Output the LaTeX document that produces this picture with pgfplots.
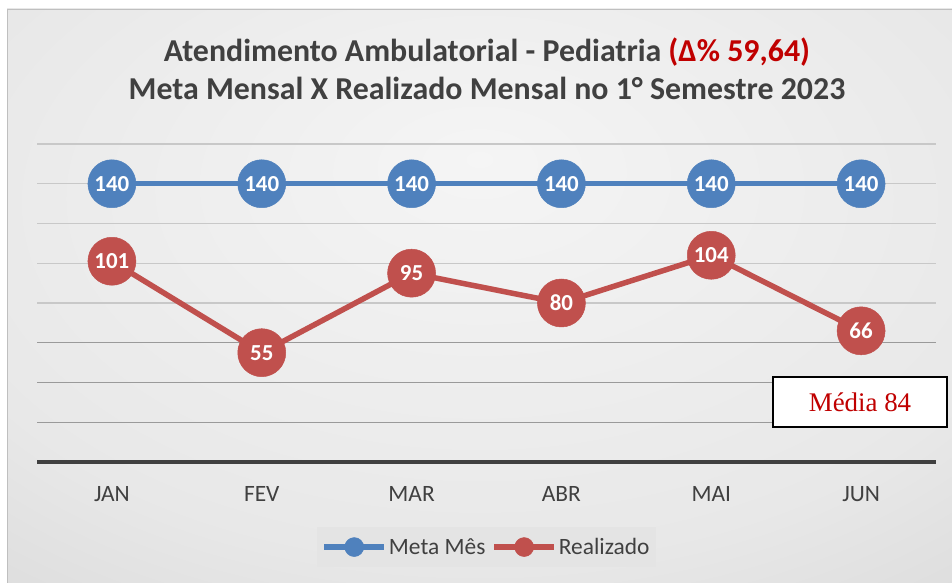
\documentclass[border=0pt]{standalone}
\usepackage{fontspec}
\setmainfont{Carlito}
\newfontfamily\timesf{Liberation Serif}
\usepackage{pgfplots}
\pgfplotsset{compat=1.18}

\definecolor{metablue}{HTML}{4F81BD}
\definecolor{realred}{HTML}{C0504D}
\definecolor{titlegray}{HTML}{404040}
\definecolor{darkred}{HTML}{C00000}
\definecolor{gridlight}{HTML}{C8C8C8}
\definecolor{griddark}{HTML}{9A9A9A}
\definecolor{axisdark}{HTML}{404040}
\definecolor{legfill}{HTML}{E4E4E4}

\pgfdeclareradialshading{chartbg}{\pgfpoint{0bp}{12bp}}{%
  color(0bp)=(black!4); color(30bp)=(black!9); color(50bp)=(black!17); color(75bp)=(black!24)}

\begin{document}
\begin{tikzpicture}
\useasboundingbox (0,0) rectangle (952bp,583bp);
\fill[white] (0,0) rectangle (952bp,583bp);
\shade[shading=chartbg] (7bp,0bp) rectangle (952bp,574bp);
\draw[black!25, line width=0.8bp] (7bp,0bp) -- (7bp,574bp) -- (952bp,574bp);

\node[align=center, text=titlegray, font=\bfseries\fontsize{32}{38}\selectfont]
  at (487bp,514bp) {Atendimento Ambulatorial - Pediatria \textcolor{darkred}{(Δ\% 59,64)}\\
  Meta Mensal X Realizado Mensal no 1° Semestre 2023};

\begin{axis}[
  at={(37bp,121bp)}, anchor=south west,
  width=899bp, height=318bp, scale only axis,
  /pgf/number format/assume math mode=true,
  xmin=-0.5, xmax=5.5, ymin=0, ymax=160,
  xtick={0,...,5},
  xticklabels={JAN,FEV,MAR,ABR,MAI,JUN},
  xticklabel style={font=\fontsize{23.5}{24}\selectfont, text=titlegray, yshift=-21bp},
  ytick={80,100,...,160}, yticklabels={},
  extra y ticks={20,40,60}, extra y tick labels={},
  extra y tick style={grid style={color=griddark, line width=1.3bp}},
  ymajorgrids,
  grid style={color=gridlight, line width=1.3bp},
  major tick length=0pt,
  axis line style={draw=none},
  clip=false,
  legend style={at={(0.5,0)}, anchor=north, yshift=-65bp,
    fill=legfill, draw=none, inner xsep=4bp, inner ysep=9bp,
    font=\fontsize{23.5}{24}\selectfont, text=titlegray,
    /tikz/every even column/.append style={column sep=4bp}},
  legend columns=2,
  legend image code/.code={%
    \draw[#1, mark repeat=2, mark phase=2] plot coordinates {(0bp,0bp) (30bp,0bp) (60bp,0bp)};},
]
\draw[axisdark, line width=3.5bp] (axis cs:-0.5,0) -- (axis cs:5.5,0);

\addplot[metablue, line width=5.5bp, mark=*, mark size=24bp, mark options={line width=0.5bp},
  nodes near coords, forget plot,
  every node near coord/.append style={anchor=center, text=white,
    font=\bfseries\fontsize{23}{23}\selectfont}]
  coordinates {(0,140) (1,140) (2,140) (3,140) (4,140) (5,140)};
\addplot[realred, line width=5.5bp, mark=*, mark size=24bp, mark options={line width=0.5bp},
  nodes near coords, forget plot,
  every node near coord/.append style={anchor=center, text=white,
    font=\bfseries\fontsize{23}{23}\selectfont}]
  coordinates {(0,101) (1,55) (2,95) (3,80) (4,104) (5,66)};

\addlegendimage{metablue, line width=5.5bp, mark=*, mark size=9.5bp, mark options={line width=0.5bp}}
\addlegendentry{Meta Mês}
\addlegendimage{realred, line width=5.5bp, mark=*, mark size=9.5bp, mark options={line width=0.5bp}}
\addlegendentry{Realizado}
\end{axis}

\node[draw=black, line width=1.3bp, fill=white, minimum width=174bp, minimum height=50bp,
  text=darkred, font=\timesf\fontsize{27}{27}\selectfont] at (860bp,181bp) {Média 84};
\end{tikzpicture}
\end{document}
